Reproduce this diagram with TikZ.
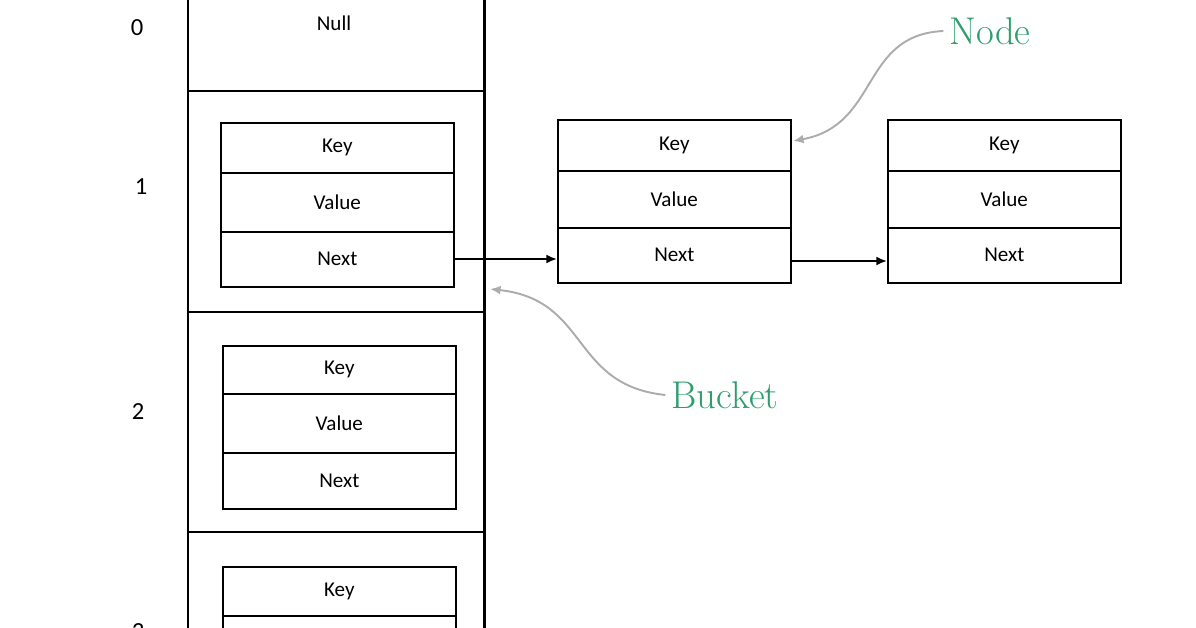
\documentclass[tikz,border=0pt]{standalone}
\usepackage{fontspec}
\setmainfont{Carlito}
\newfontfamily\serifgreen{Latin Modern Roman}
\usetikzlibrary{arrows.meta}
\definecolor{lbl}{HTML}{2E9E6E}
\begin{document}
\begin{tikzpicture}[x=0.02cm,y=-0.02cm,
  cell/.style={draw,line width=0.9pt,minimum width=233*0.02cm,inner sep=0pt,font=\fontsize{12}{12}\selectfont},
  idx/.style={font=\fontsize{14}{14}\selectfont},
  note/.style={text=lbl,font=\serifgreen\fontsize{22}{22}\selectfont},
  ptr/.style={-{Latex[length=6pt,width=5pt]},line width=1.1pt},
  call/.style={-{Latex[length=6pt,width=5pt]},draw=gray!65,line width=1.1pt}]
\useasboundingbox (0,0) rectangle (1196,628);
% bucket column
\draw[line width=1.7pt] (188,-5) -- (188,640) (484,-5) -- (484,640);
\draw[line width=1.7pt] (188,91) -- (484,91) (188,312) -- (484,312) (188,532) -- (484,532);
\node[idx] (i0) at (137,28) {0};
\node[idx] (i1) at (141,187) {1};
\node[idx] (i2) at (138,412) {2};
\node[idx] (i3) at (138,632) {3};
\node[font=\fontsize{12}{12}\selectfont] (null) at (334,23) {Null};
% bucket 1
\node[cell,minimum height=50*0.02cm,anchor=north west] (b1k) at (220,122) {Key};
\node[cell,minimum height=59*0.02cm,anchor=north west] (b1v) at (220,172) {Value};
\node[cell,minimum height=55*0.02cm,anchor=north west] (b1n) at (220,231) {Next};
% bucket 2
\node[cell,minimum height=48*0.02cm,anchor=north west] (b2k) at (222,345) {Key};
\node[cell,minimum height=59*0.02cm,anchor=north west] (b2v) at (222,393) {Value};
\node[cell,minimum height=56*0.02cm,anchor=north west] (b2n) at (222,452) {Next};
% bucket 3
\node[cell,minimum height=49*0.02cm,anchor=north west] (b3k) at (222,566) {Key};
\node[cell,minimum height=59*0.02cm,anchor=north west] (b3v) at (222,615) {};
% node 1
\node[cell,minimum height=51*0.02cm,anchor=north west] (n1k) at (557,119) {Key};
\node[cell,minimum height=57*0.02cm,anchor=north west] (n1v) at (557,170) {Value};
\node[cell,minimum height=55*0.02cm,anchor=north west] (n1n) at (557,227) {Next};
% node 2
\node[cell,minimum height=51*0.02cm,anchor=north west] (n2k) at (887,119) {Key};
\node[cell,minimum height=57*0.02cm,anchor=north west] (n2v) at (887,170) {Value};
\node[cell,minimum height=55*0.02cm,anchor=north west] (n2n) at (887,227) {Next};
% pointers
\draw[ptr] (b1n.east |- 0,259) -- (n1n.west |- 0,259);
\draw[ptr] (n1n.east |- 0,261) -- (n2n.west |- 0,261);
% callouts
\node[note] (lnode) at (990,31) {Node};
\node[note] (lbucket) at (725,395) {Bucket};
\coordinate (cn) at (793,141);
\coordinate (cb) at (490,289);
\draw[call] (lnode.west) .. controls (860,35) and (880,125) .. (cn);
\draw[call] (lbucket.west) .. controls (570,385) and (590,300) .. (cb);
\end{tikzpicture}
\end{document}
